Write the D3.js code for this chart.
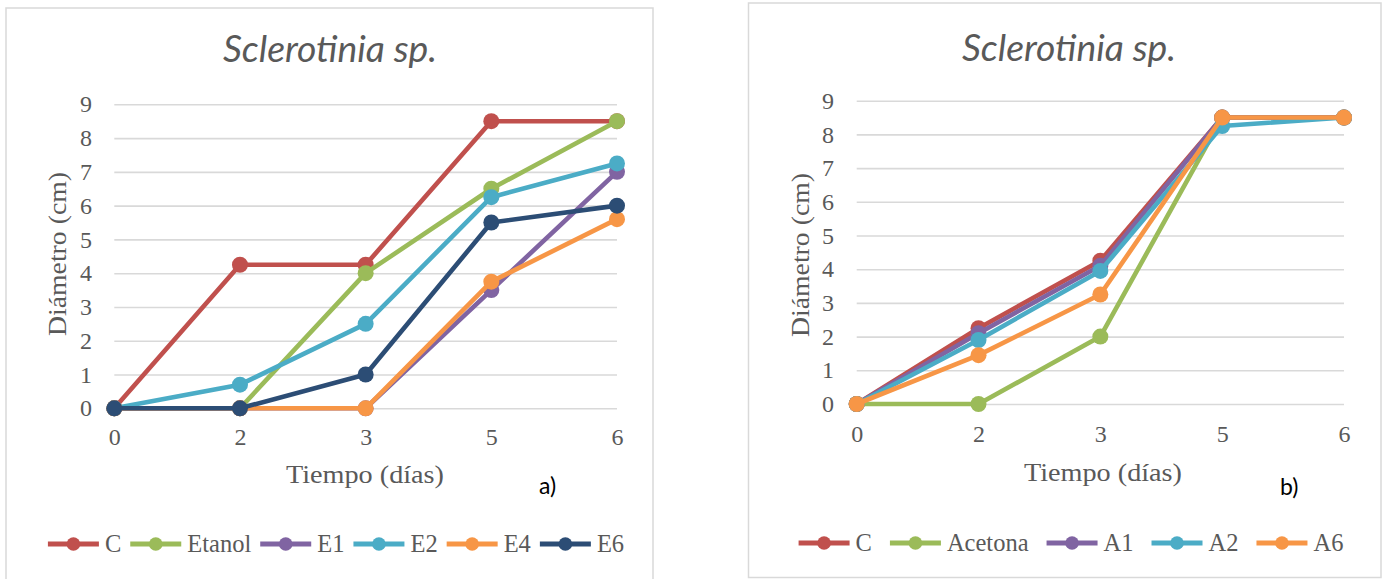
<!DOCTYPE html>
<html>
<head>
<meta charset="utf-8">
<script src="https://cdn.jsdelivr.net/npm/d3@7"></script>
<style>
  html, body { margin: 0; padding: 0; background: #ffffff; }
  svg { display: block; }
</style>
</head>
<body>
<svg id="chart" width="1387" height="579"></svg>
<script>
// ---------- DATA ----------
const days = ["0", "2", "3", "5", "6"];
const yTicks = [0, 1, 2, 3, 4, 5, 6, 7, 8, 9];
const chartTitle = "Sclerotinia sp.";
const xTitle = "Tiempo (días)";
const yTitle = "Diámetro (cm)";

// Panel a) ethanol extracts
const seriesNamesA = ["C", "Etanol", "E1", "E2", "E4", "E6"];
const valuesA_C      = [0, 4.25, 4.25, 8.5, 8.5];
const valuesA_Etanol = [0, 0, 4, 6.5, 8.5];
const valuesA_E1     = [0, 0, 0, 3.5, 7];
const valuesA_E2     = [0, 0.7, 2.5, 6.25, 7.25];
const valuesA_E4     = [0, 0, 0, 3.75, 5.6];
const valuesA_E6     = [0, 0, 1, 5.5, 6];
const colorsA = ["#C0504D", "#9BBB59", "#8064A2", "#4BACC6", "#F79646", "#2C4D75"];

// Panel b) acetone extracts
const seriesNamesB = ["C", "Acetona", "A1", "A2", "A6"];
const valuesB_C       = [0, 2.25, 4.25, 8.5, 8.5];
const valuesB_Acetona = [0, 0, 2, 8.5, 8.5];
const valuesB_A1      = [0, 2.1, 4.1, 8.5, 8.5];
const valuesB_A2      = [0, 1.9, 3.95, 8.25, 8.5];
const valuesB_A6      = [0, 1.45, 3.25, 8.5, 8.5];
const colorsB = ["#C0504D", "#9BBB59", "#8064A2", "#4BACC6", "#F79646"];

const panelLabels = ["a)", "b)"];

// ---------- DRAWING ----------
const svg = d3.select("#chart");
const TEXT = "#595959";
const GRID = "#D9D9D9";
const SERIF = "'Liberation Serif', 'DejaVu Serif', serif";

function drawPanel(opt) {
  const g = svg.append("g");
  // frame
  g.append("rect")
    .attr("x", opt.frame.x).attr("y", opt.frame.y)
    .attr("width", opt.frame.w).attr("height", opt.frame.h)
    .attr("fill", "#fff").attr("stroke", GRID).attr("stroke-width", 1.5);

  const x = d3.scalePoint().domain(days).range([opt.plot.x0, opt.plot.x1]);
  const y = d3.scaleLinear().domain([0, 9]).range([opt.plot.y0, opt.plot.y1]);

  // title
  g.append("text")
    .attr("x", opt.titleX).attr("y", opt.titleY)
    .attr("text-anchor", "middle")
    .attr("font-family", "Lato, 'Open Sans', sans-serif")
    .attr("font-style", "italic")
    .attr("font-size", 36)
    .attr("fill", TEXT)
    .attr("textLength", 214).attr("lengthAdjust", "spacingAndGlyphs")
    .text(chartTitle);

  // gridlines
  const yAxis = d3.axisLeft(y).tickValues(yTicks)
    .tickSize(-(opt.plot.x1 - opt.plot.x0)).tickPadding(22).tickFormat(d3.format("d"));
  const ya = g.append("g").attr("transform", `translate(${opt.plot.x0},0)`).call(yAxis);
  ya.select(".domain").remove();
  ya.selectAll(".tick line").attr("stroke", GRID).attr("stroke-width", 1.6);
  ya.selectAll(".tick text")
    .attr("font-family", SERIF).attr("font-size", 24).attr("fill", TEXT)
    .attr("x", opt.yLabelRight - opt.plot.x0);

  const xAxis = d3.axisBottom(x).tickSize(0).tickPadding(0);
  const xa = g.append("g").attr("transform", `translate(0,${opt.plot.y0})`).call(xAxis);
  xa.select(".domain").remove();
  xa.selectAll(".tick text")
    .attr("font-family", SERIF).attr("font-size", 24).attr("fill", TEXT)
    .attr("dy", null).attr("y", opt.xLabelBaseline - opt.plot.y0);

  // axis titles
  g.append("text")
    .attr("x", opt.xTitleX).attr("y", opt.xTitleY)
    .attr("text-anchor", "middle")
    .attr("font-family", SERIF).attr("font-size", 25).attr("fill", TEXT)
    .attr("textLength", 158).attr("lengthAdjust", "spacingAndGlyphs")
    .text(xTitle);
  g.append("text")
    .attr("transform", `translate(${opt.yTitleX},${opt.yTitleY}) rotate(-90)`)
    .attr("text-anchor", "middle")
    .attr("font-family", SERIF).attr("font-size", 25).attr("fill", TEXT)
    .attr("textLength", 164).attr("lengthAdjust", "spacingAndGlyphs")
    .text(yTitle);

  // panel label
  g.append("text")
    .attr("x", opt.labelX).attr("y", opt.labelY)
    .attr("font-family", "Lato, 'Open Sans', sans-serif")
    .attr("font-size", 23).attr("fill", "#000")
    .text(opt.label);

  // series
  const line = d3.line().x((d, i) => x(days[i])).y(d => y(d));
  opt.series.forEach((s, k) => {
    const sg = g.append("g");
    sg.append("path").datum(s.values)
      .attr("d", line).attr("fill", "none")
      .attr("stroke", opt.colors[k]).attr("stroke-width", 4.6)
      .attr("stroke-linejoin", "round").attr("stroke-linecap", "round");
    sg.selectAll("circle").data(s.values).join("circle")
      .attr("cx", (d, i) => x(days[i])).attr("cy", d => y(d))
      .attr("r", 8).attr("fill", opt.colors[k]);
  });

  // legend
  const lg = g.append("g");
  let cursor = 0;
  const symW = 51, symGap = 6, itemGap = opt.legendGap;
  opt.series.forEach((s, k) => {
    const it = lg.append("g");
    it.append("line").attr("x1", 0).attr("x2", symW).attr("y1", 0).attr("y2", 0)
      .attr("stroke", opt.colors[k]).attr("stroke-width", 4.8);
    it.append("circle").attr("cx", symW / 2).attr("cy", 0).attr("r", 6.8).attr("fill", opt.colors[k]);
    const t = it.append("text").attr("x", symW + symGap).attr("y", 8)
      .attr("font-family", SERIF).attr("font-size", 24.5).attr("fill", TEXT).text(s.name);
    const w = symW + symGap + t.node().getComputedTextLength();
    it.attr("transform", `translate(${cursor},${opt.legendY})`);
    cursor += w + itemGap;
  });
  const total = cursor - itemGap;
  lg.attr("transform", `translate(${opt.legendCX - total / 2},0)`);
}

drawPanel({
  frame: { x: 6, y: 8, w: 647, h: 600 },
  plot: { x0: 114.3, x1: 617, y0: 408.3, y1: 104.3 },
  titleX: 330, titleY: 62,
  yLabelRight: 92, xLabelBaseline: 445,
  xTitleX: 365, xTitleY: 483,
  yTitleX: 66, yTitleY: 254,
  labelX: 539, labelY: 494, label: panelLabels[0],
  legendY: 544, legendCX: 336, legendGap: 9,
  colors: colorsA,
  series: [
    { name: seriesNamesA[0], values: valuesA_C },
    { name: seriesNamesA[1], values: valuesA_Etanol },
    { name: seriesNamesA[2], values: valuesA_E1 },
    { name: seriesNamesA[3], values: valuesA_E2 },
    { name: seriesNamesA[4], values: valuesA_E4 },
    { name: seriesNamesA[5], values: valuesA_E6 }
  ]
});

drawPanel({
  frame: { x: 748.5, y: 3, w: 632.5, h: 574.5 },
  plot: { x0: 856.7, x1: 1344, y0: 404, y1: 100.7 },
  titleX: 1069, titleY: 61,
  yLabelRight: 834, xLabelBaseline: 442,
  xTitleX: 1103, xTitleY: 481,
  yTitleX: 809, yTitleY: 255,
  labelX: 1280, labelY: 495, label: panelLabels[1],
  legendY: 543, legendCX: 1071, legendGap: 18,
  colors: colorsB,
  series: [
    { name: seriesNamesB[0], values: valuesB_C },
    { name: seriesNamesB[1], values: valuesB_Acetona },
    { name: seriesNamesB[2], values: valuesB_A1 },
    { name: seriesNamesB[3], values: valuesB_A2 },
    { name: seriesNamesB[4], values: valuesB_A6 }
  ]
});
</script>
</body>
</html>
